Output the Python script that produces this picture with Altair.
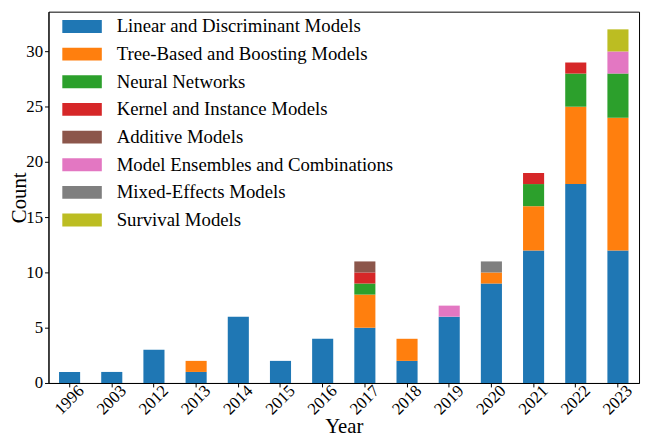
import altair as alt
import pandas as pd

years = ["1996", "2003", "2012", "2013", "2014", "2015", "2016",
         "2017", "2018", "2019", "2020", "2021", "2022", "2023"]
categories = ["Linear and Discriminant Models", "Tree-Based and Boosting Models",
              "Neural Networks", "Kernel and Instance Models", "Additive Models",
              "Model Ensembles and Combinations", "Mixed-Effects Models", "Survival Models"]
colors = ["#1f77b4", "#ff7f0e", "#2ca02c", "#d62728", "#8c564b", "#e377c2", "#7f7f7f", "#bcbd22"]

linear = [1, 1, 3, 1, 6, 2, 4, 5, 2, 6, 9, 12, 18, 12]
tree = [0, 0, 0, 1, 0, 0, 0, 3, 2, 0, 1, 4, 7, 12]
neural = [0, 0, 0, 0, 0, 0, 0, 1, 0, 0, 0, 2, 3, 4]
kernel = [0, 0, 0, 0, 0, 0, 0, 1, 0, 0, 0, 1, 1, 0]
additive = [0, 0, 0, 0, 0, 0, 0, 1, 0, 0, 0, 0, 0, 0]
ensemble = [0, 0, 0, 0, 0, 0, 0, 0, 0, 1, 0, 0, 0, 2]
mixed = [0, 0, 0, 0, 0, 0, 0, 0, 0, 0, 1, 0, 0, 0]
survival = [0, 0, 0, 0, 0, 0, 0, 0, 0, 0, 0, 0, 0, 2]

series = [linear, tree, neural, kernel, additive, ensemble, mixed, survival]
rows = []
for ci, (cat, vals) in enumerate(zip(categories, series)):
    for y, v in zip(years, vals):
        rows.append({"Year": y, "Category": cat, "Count": v, "order": ci})
df = pd.DataFrame(rows)

FONT = "Liberation Serif"
rect_path = "M-2,-0.65L2,-0.65L2,0.65L-2,0.65Z"

chart = alt.Chart(df).mark_bar().encode(
    x=alt.X("Year:N", sort=years,
            scale=alt.Scale(paddingInner=0.5, paddingOuter=0.25),
            axis=alt.Axis(title="Year", labelAngle=-45, labelAlign="center",
                          labelBaseline="middle", labelPadding=13, tickSize=4,
                          labelFont=FONT, labelFontSize=17,
                          titleFont=FONT, titleFontSize=21, titleY=50,
                          titleBaseline="alphabetic")),
    y=alt.Y("Count:Q", stack="zero",
            scale=alt.Scale(domain=[0, 33.6], nice=False),
            axis=alt.Axis(title="Count", values=[0, 5, 10, 15, 20, 25, 30], tickSize=4,
                          labelFont=FONT, labelFontSize=17, labelPadding=2,
                          titleFont=FONT, titleFontSize=21, titleX=-23,
                          titleBaseline="alphabetic", titleAngle=-90)),
    color=alt.Color("Category:N", sort=categories,
                    scale=alt.Scale(domain=categories, range=colors),
                    legend=alt.Legend(title=None, orient="none", legendX=24, legendY=5,
                                      symbolType=rect_path, symbolSize=400,
                                      symbolStrokeWidth=0, labelFontSize=19,
                                      labelOffset=25, rowPadding=8, padding=0,
                                      labelFont=FONT, labelColor="black",
                                      labelLimit=400)),
    order=alt.Order("order:Q"),
).properties(
    width=598, height=376,
    autosize=alt.AutoSizeParams(type="none"),
    padding={"left": 41, "top": 1, "right": 3, "bottom": 54},
).configure_view(
    stroke="black", strokeWidth=1
).configure_axis(
    grid=False, labelFont=FONT, titleFont=FONT,
    labelColor="black", titleColor="black", domainColor="black", tickColor="black",
    titleFontWeight="normal", domainWidth=1
)

chart.save("out.html", embed_options={"renderer": "svg", "actions": False})
